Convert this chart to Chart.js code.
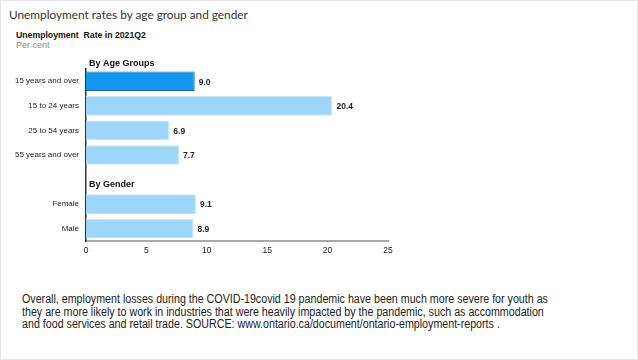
<!DOCTYPE html>
<html>
<head>
<meta charset="utf-8">
<script src="https://cdn.jsdelivr.net/npm/chart.js@4/dist/chart.umd.min.js"></script>
<style>
  html, body { margin: 0; padding: 0; background: #fff; }
  #frame { position: relative; width: 638px; height: 360px; box-sizing: border-box; border: 1px solid #e6e6e6; overflow: hidden; }
  #title { position: absolute; left: 8px; top: 6px; font-family: Lato, "Open Sans", sans-serif; font-size: 11.8px; color: #333; white-space: nowrap; }
  #sub { position: absolute; left: 15px; top: 29px; font-family: "Liberation Sans", Arial, sans-serif; font-weight: bold; font-size: 8.7px; color: #111; white-space: nowrap; }
  #unit { position: absolute; left: 15px; top: 39px; font-family: "Liberation Sans", Arial, sans-serif; font-size: 9px; color: #888; white-space: nowrap; }
  #note { position: absolute; left: 21px; top: 292px; font-family: "Liberation Sans", Arial, sans-serif; font-size: 12px; line-height: 12.7px; color: #222; white-space: nowrap; transform-origin: 0 0; transform: scaleX(0.89); }
  #wrap { position: absolute; left: 0; top: 0; width: 638px; height: 270px; }
</style>
</head>
<body>
<div id="frame">
  <div id="title">Unemployment rates by age group and gender</div>
  <div id="sub">Unemployment&nbsp; Rate in 2021Q2</div>
  <div id="unit">Per cent</div>
  <div id="wrap"><canvas id="c" width="638" height="270"></canvas></div>
  <div id="note">Overall, employment losses during the COVID-19covid 19 pandemic have been much more severe for youth as<br>they are more likely to work in industries that were heavily impacted by the pandemic, such as accommodation<br>and food services and retail trade. SOURCE: www.ontario.ca/document/ontario-employment-reports .</div>
</div>
<script>
// ---- data ----
const categories = ['15 years and over', '15 to 24 years', '25 to 54 years', '55 years and over', '', 'Female', 'Male'];
const rates = [9.0, 20.4, 6.9, 7.7, null, 9.1, 8.9];
const groupHeaders = ['By Age Groups', 'By Gender'];
const groupHeaderRows = [0, 4];   // header of group sits above row 0 / in the blank row 4
const xTicks = [0, 5, 10, 15, 20, 25];

// ---- styles ----
const totalFill = '#1296f0', totalBorder = '#1b6aa3';
const partFill = '#9dd6f8', partBorder = '#c4e6fa';
const FONT = '"Liberation Sans", Arial, sans-serif';

const headerPlugin = {
  id: 'headers',
  afterDatasetsDraw(chart) {
    const ctx = chart.ctx, y = chart.scales.y, area = chart.chartArea;
    ctx.save();
    ctx.font = 'bold 9px ' + FONT;
    ctx.fillStyle = '#111';
    ctx.textBaseline = 'middle';
    ctx.textAlign = 'left';
    groupHeaders.forEach((h, i) => {
      const row = groupHeaderRows[i];
      const py = i === 0 ? area.top - 5 : y.getPixelForValue(row) + 5;
      ctx.fillText(h, area.left + 3, py);
    });
    // value labels
    ctx.font = 'bold 8.5px ' + FONT;
    ctx.fillStyle = '#222';
    const meta = chart.getDatasetMeta(0);
    meta.data.forEach((bar, i) => {
      const v = rates[i];
      if (v === null || v === undefined) return;
      ctx.fillText(v.toFixed(1), bar.x + 4, bar.y + 1);
    });
    ctx.restore();
  }
};

new Chart(document.getElementById('c'), {
  type: 'bar',
  data: {
    labels: categories,
    datasets: [{
      data: rates,
      backgroundColor: rates.map((v, i) => i === 0 ? totalFill : partFill),
      borderColor: rates.map((v, i) => i === 0 ? totalBorder : partBorder),
      borderWidth: 1,
      borderSkipped: 'start',
      categoryPercentage: 1,
      barPercentage: 0.8
    }]
  },
  options: {
    indexAxis: 'y',
    responsive: false,
    animation: false,
    layout: { padding: { top: 68, right: 251, left: 0, bottom: 0 } },
    plugins: { legend: { display: false }, tooltip: { enabled: false } },
    scales: {
      x: {
        min: 0, max: 25,
        afterBuildTicks(s) { s.ticks = xTicks.map(v => ({ value: v })); },
        afterFit(s) { s.height = 30; },
        grid: { display: false, drawTicks: false },
        border: { display: true, color: '#a8a8a8', width: 2 },
        ticks: { padding: 5, color: '#222', font: { family: FONT, size: 8.5 } }
      },
      y: {
        afterFit(s) { s.width = 85; },
        grid: { display: false, drawTicks: false },
        border: { display: true, color: '#333', width: 1.5 },
        ticks: { padding: 7, color: '#222', font: { family: FONT, size: 8 } }
      }
    }
  },
  plugins: [headerPlugin]
});
</script>
</body>
</html>
